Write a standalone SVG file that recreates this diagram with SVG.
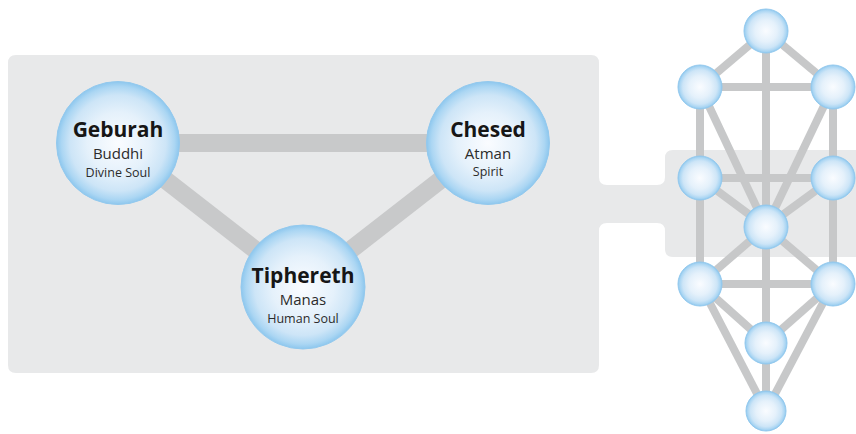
<svg xmlns="http://www.w3.org/2000/svg" width="856" height="434" viewBox="0 0 856 434">
  <style>
    .title { font-family: "Open Sans", "Liberation Sans", sans-serif; font-weight: 700; font-size: 21px; fill: #161616; text-anchor: middle; }
    .sub { font-family: "Open Sans", "Liberation Sans", sans-serif; font-size: 15px; fill: #2b2b2b; text-anchor: middle; }
    .small { font-family: "Open Sans", "Liberation Sans", sans-serif; font-size: 12.5px; fill: #2b2b2b; text-anchor: middle; }
    .bar { stroke: #c8c9ca; stroke-width: 18; fill: none; }
    .path { stroke: #c7c8c9; stroke-width: 8; fill: none; }
    .orb { fill: url(#orb); stroke: #93c9ee; stroke-width: 1; }
  </style>
  <defs>
    <radialGradient id="orb" cx="0.5" cy="0.5" r="0.5">
      <stop offset="0" stop-color="#fafcff"/>
      <stop offset="0.5" stop-color="#e5f1fb"/>
      <stop offset="0.78" stop-color="#cde5f7"/>
      <stop offset="0.92" stop-color="#abd6f3"/>
      <stop offset="1" stop-color="#8dc7ee"/>
    </radialGradient>
  </defs>
  <rect width="856" height="434" fill="#ffffff"/>
  <path id="panel" fill="#e8e9ea" d="M 16 55 H 591 Q 599 55 599 63 V 177 Q 599 185 607 185 H 657 Q 665 185 665 177 V 158 Q 665 150 673 150 H 856 V 257 H 673 Q 665 257 665 249 V 231 Q 665 223 657 223 H 607 Q 599 223 599 231 V 365 Q 599 373 591 373 H 16 Q 8 373 8 365 V 63 Q 8 55 16 55 Z"/>
  <g id="connectors">
    <line class="bar" x1="118" y1="143" x2="488" y2="143"/>
    <line class="bar" x1="118" y1="143" x2="303" y2="287"/>
    <line class="bar" x1="488" y1="143" x2="303" y2="287"/>
    <line class="path" x1="766" y1="31" x2="766" y2="411"/>
    <line class="path" x1="700" y1="87" x2="700" y2="284"/>
    <line class="path" x1="833" y1="87" x2="833" y2="284"/>
    <line class="path" x1="766" y1="31" x2="700" y2="87"/>
    <line class="path" x1="766" y1="31" x2="833" y2="87"/>
    <line class="path" x1="700" y1="87" x2="833" y2="87"/>
    <line class="path" x1="700" y1="87" x2="766" y2="227"/>
    <line class="path" x1="833" y1="87" x2="766" y2="227"/>
    <line class="path" x1="700" y1="178" x2="833" y2="178"/>
    <line class="path" x1="700" y1="178" x2="766" y2="227"/>
    <line class="path" x1="833" y1="178" x2="766" y2="227"/>
    <line class="path" x1="766" y1="227" x2="700" y2="284"/>
    <line class="path" x1="766" y1="227" x2="833" y2="284"/>
    <line class="path" x1="700" y1="284" x2="833" y2="284"/>
    <line class="path" x1="700" y1="284" x2="766" y2="343"/>
    <line class="path" x1="833" y1="284" x2="766" y2="343"/>
    <line class="path" x1="700" y1="284" x2="766" y2="411"/>
    <line class="path" x1="833" y1="284" x2="766" y2="411"/>
  </g>
  <g id="geburah">
    <circle class="orb" cx="118" cy="143" r="61.5"/>
    <text class="title" x="118" y="137">Geburah</text>
    <text class="sub" x="118" y="159">Buddhi</text>
    <text class="small" x="118" y="176.5">Divine Soul</text>
  </g>
  <g id="chesed">
    <circle class="orb" cx="488" cy="143" r="61.5"/>
    <text class="title" x="488" y="137">Chesed</text>
    <text class="sub" x="488" y="159">Atman</text>
    <text class="small" x="488" y="176">Spirit</text>
  </g>
  <g id="tiphereth">
    <circle class="orb" cx="303" cy="287" r="62"/>
    <text class="title" x="303" y="283">Tiphereth</text>
    <text class="sub" x="303" y="305">Manas</text>
    <text class="small" x="303" y="323">Human Soul</text>
  </g>
  <g id="tree-kether"><circle class="orb" cx="766" cy="31" r="22"/></g>
  <g id="tree-chokmah"><circle class="orb" cx="833" cy="87" r="22"/></g>
  <g id="tree-binah"><circle class="orb" cx="700" cy="87" r="22"/></g>
  <g id="tree-chesed"><circle class="orb" cx="833" cy="178" r="22"/></g>
  <g id="tree-geburah"><circle class="orb" cx="700" cy="178" r="22"/></g>
  <g id="tree-tiphereth"><circle class="orb" cx="766" cy="227" r="22"/></g>
  <g id="tree-netzach"><circle class="orb" cx="833" cy="284" r="22"/></g>
  <g id="tree-hod"><circle class="orb" cx="700" cy="284" r="22"/></g>
  <g id="tree-yesod"><circle class="orb" cx="766" cy="343" r="21"/></g>
  <g id="tree-malkuth"><circle class="orb" cx="766" cy="411" r="20"/></g>
</svg>
